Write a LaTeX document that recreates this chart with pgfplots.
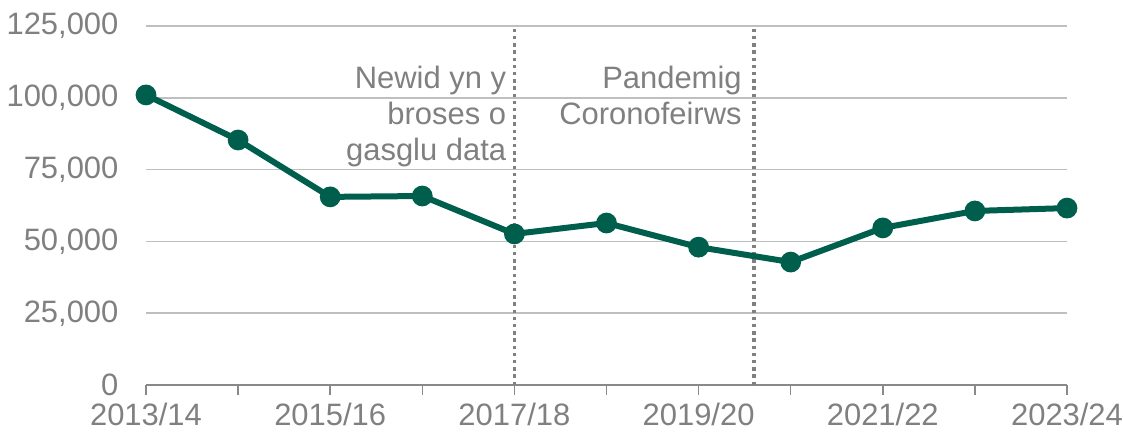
\documentclass[border=0pt]{standalone}
\usepackage{fontspec}
\setmainfont{Liberation Sans}
\usepackage{pgfplots}
\pgfplotsset{compat=1.18}
\definecolor{lineg}{RGB}{0,94,76}
\definecolor{txtg}{RGB}{128,128,128}
\definecolor{gridg}{RGB}{191,191,191}
\definecolor{axg}{RGB}{137,137,137}
\begin{document}
\fontsize{22.8}{27}\selectfont
\begin{tikzpicture}
\useasboundingbox (-109.5pt,-37.5pt) rectangle (732.75pt,288.75pt);
\begin{axis}[
  at={(0,0)}, anchor=south west,
  scale only axis,
  width=690.75pt, height=269.25pt,
  xmin=0, xmax=10, ymin=0, ymax=125000,
  axis lines*=left,
  y axis line style={draw=none},
  ymajorgrids, grid style={gridg, line width=1.1pt},
  scaled y ticks=false,
  ytick={0,25000,50000,75000,100000,125000},
  yticklabels={0,{25,000},{50,000},{75,000},{100,000},{125,000}},
  xtick={0,1,...,10},
  xticklabels={2013/14,,2015/16,,2017/18,,2019/20,,2021/22,,2023/24},
  x axis line style={axg, line width=1.1pt, -},
  xtick style={axg, line width=1.1pt},
  major tick length=7.5pt,
  tick align=outside,
  xtick pos=bottom,
  ytick style={draw=none},
  tick label style={txtg, inner sep=0pt, font=\fontsize{23.2}{27}\selectfont},
  /pgf/number format/assume math mode=true,
  yticklabel style={xshift=-13pt},
  xticklabel style={yshift=-5.5pt},
  clip=false,
]
\addplot[txtg, line width=2.8pt, dash pattern=on 2.6pt off 2.8pt, forget plot] coordinates {(4,0) (4,125000)};
\addplot[txtg, line width=2.8pt, dash pattern=on 2.6pt off 2.8pt, forget plot] coordinates {(6.6,0) (6.6,125000)};
\addplot[lineg, line width=4.5pt, mark=*, mark size=5.5pt, mark options={solid, fill=lineg}] coordinates {
(0,101000) (1,85300) (2,65500) (3,65800) (4,52600) (5,56400) (6,48000) (7,42800) (8,54700) (9,60600) (10,61600)};
\node[anchor=north east, align=right, inner sep=0pt, txtg, font=\fontsize{23.2}{27}\selectfont] at (axis cs:4,111200) [xshift=-6pt] {Newid yn y\\broses o\\gasglu data};
\node[anchor=north east, align=right, inner sep=0pt, txtg, font=\fontsize{23.2}{27}\selectfont] at (axis cs:6.6,111200) [xshift=-9pt] {Pandemig\\Coronofeirws};
\end{axis}
\end{tikzpicture}
\end{document}
